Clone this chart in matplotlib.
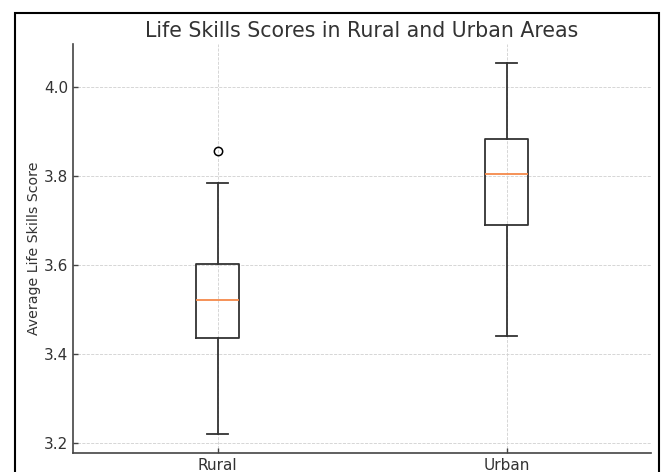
import matplotlib
matplotlib.use("Agg")
import matplotlib.pyplot as plt
from matplotlib.patches import Rectangle

# Summary statistics of average life skills scores per area
areas = ["Rural", "Urban"]
whisker_low = [3.219, 3.440]
q1 = [3.436, 3.691]
median = [3.521, 3.805]
q3 = [3.602, 3.884]
whisker_high = [3.785, 4.056]
outliers = [[3.858], []]

stats = [
    dict(label=a, whislo=lo, q1=b1, med=m, q3=b3, whishi=hi, fliers=f)
    for a, lo, b1, m, b3, hi, f in zip(areas, whisker_low, q1, median, q3,
                                        whisker_high, outliers)
]

text_color = "#333333"
line_color = "#333333"

fig = plt.figure(figsize=(6.62, 4.72), dpi=100)
ax = fig.add_axes([73 / 662, 1 - 453 / 472, (651 - 73) / 662, (453 - 44) / 472])

ax.bxp(
    stats,
    boxprops=dict(color=line_color, linewidth=1.3),
    whiskerprops=dict(color=line_color, linewidth=1.3),
    capprops=dict(color=line_color, linewidth=1.3),
    medianprops=dict(color="#f5894a", linewidth=1.3),
    flierprops=dict(marker="o", markerfacecolor="none",
                    markeredgecolor="black", markersize=6, markeredgewidth=1.1),
)

ax.set_title("Life Skills Scores in Rural and Urban Areas",
             fontsize=14.8, color=text_color, pad=5)
ax.set_ylabel("Average Life Skills Score", fontsize=10.2, color=text_color,
              labelpad=2)
ax.set_yticks([3.2, 3.4, 3.6, 3.8, 4.0])

ax.grid(True, linestyle="--", linewidth=0.6, color="#d0d0d0")
ax.set_axisbelow(True)
for side in ("top", "right"):
    ax.spines[side].set_visible(False)
for side in ("left", "bottom"):
    ax.spines[side].set_color("#444444")
    ax.spines[side].set_linewidth(1.2)
ax.tick_params(direction="in", length=3.5, width=1, colors="#444444",
               labelcolor=text_color, labelsize=11)

# Thin frame around the figure
fig.patches.append(Rectangle((15 / 662, -0.1), (659 - 15) / 662, 1.1 - 13 / 472,
                             transform=fig.transFigure, fill=False,
                             edgecolor="black", linewidth=1.5))

fig.savefig("out.png", dpi=100)
